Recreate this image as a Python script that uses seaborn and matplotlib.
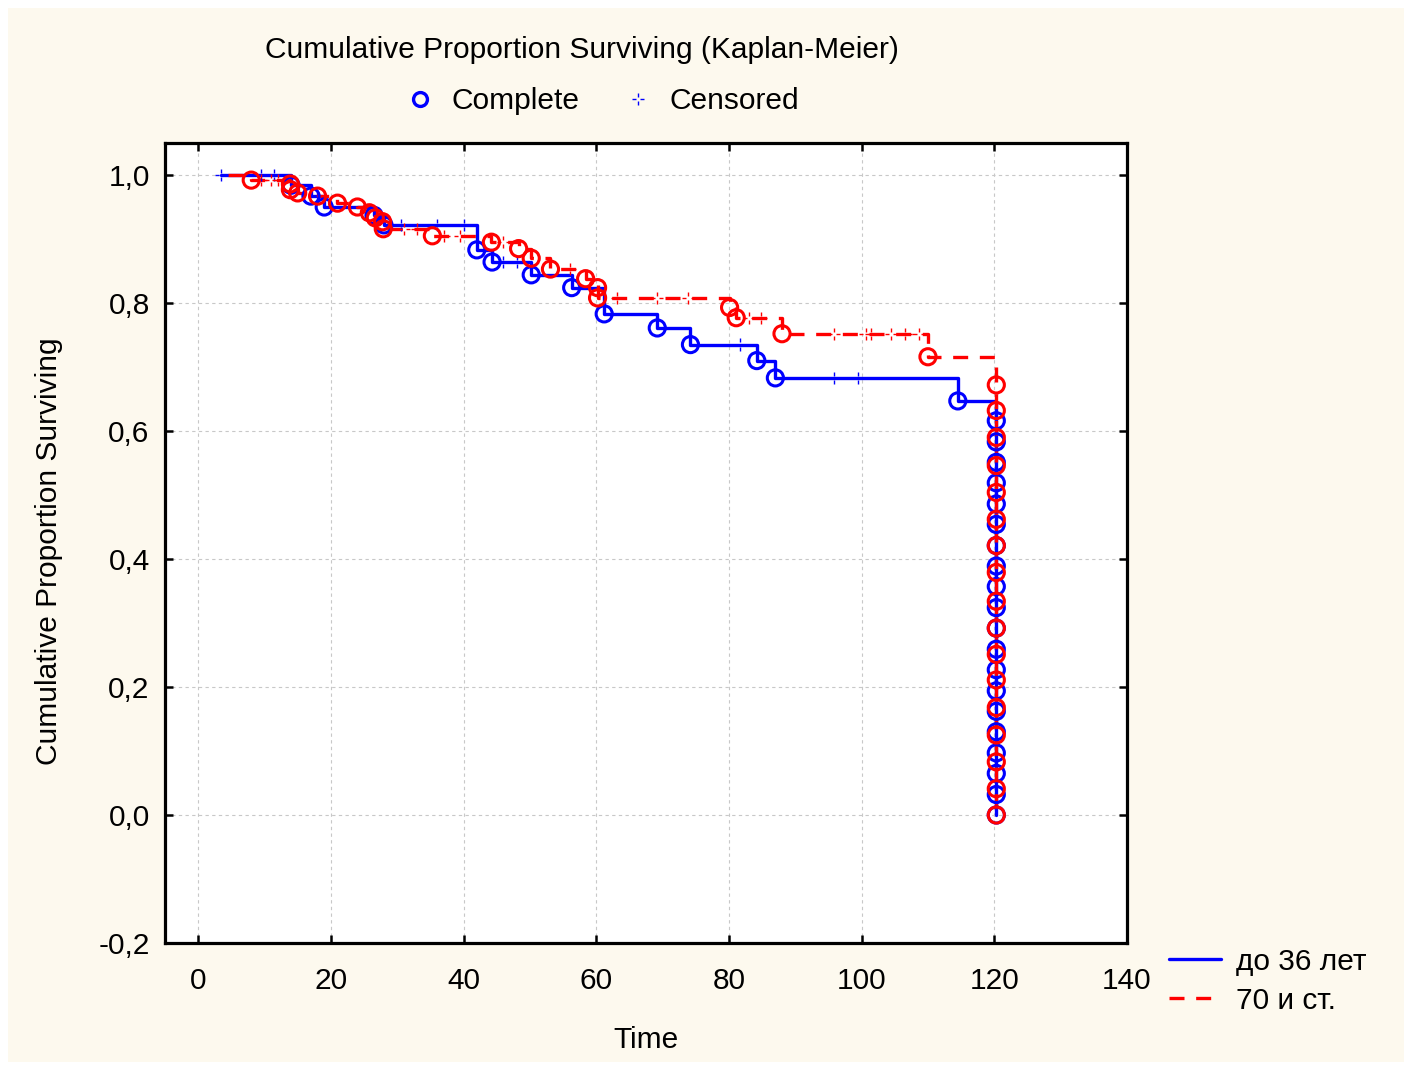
import matplotlib
matplotlib.use("Agg")
import numpy as np
import pandas as pd
import matplotlib.pyplot as plt
import seaborn as sns
from matplotlib.path import Path
from matplotlib.lines import Line2D
from matplotlib.patches import Rectangle

# Données (temps, survie cumulée)
groupes = ["до 36 лет", "70 и ст."]

# до 36 лет : événements (Complete)
bleu_debut = 3.5
bleu_t = [14, 17, 19, 26.5, 28, 42, 44.3, 50.2, 56.3, 61.2, 69.2, 74.2, 84.2, 87, 114.5,
          120.3, 120.3, 120.3, 120.3, 120.3, 120.3, 120.3, 120.3, 120.3, 120.3,
          120.3, 120.3, 120.3, 120.3, 120.3, 120.3, 120.3, 120.3, 120.3, 120.3]
bleu_s = [0.984, 0.967, 0.950, 0.937, 0.922, 0.883, 0.864, 0.844, 0.824, 0.783, 0.761, 0.735,
          0.710, 0.683, 0.647,
          0.616, 0.583, 0.551, 0.519, 0.486, 0.454, 0.421, 0.389, 0.357, 0.324,
          0.292, 0.259, 0.227, 0.194, 0.162, 0.130, 0.097, 0.065, 0.032, 0.0]
# до 36 лет : censurés
bleu_cens_t = [3.5, 9.5, 11.5, 30.5, 36, 40, 46, 48, 81.7, 95.8, 99.5]
bleu_cens_s = [1.0, 1.0, 1.0, 0.922, 0.922, 0.922, 0.864, 0.864, 0.735, 0.683, 0.683]

# 70 и ст. : événements (Complete)
rouge_debut = 4.5
rouge_t = [8, 13.9, 13.9, 15, 18, 21, 24, 25.8, 26.7, 27.8, 27.9, 35.3, 44.2, 48.3, 50.2,
           53.1, 58.4, 60.2, 60.2, 80.1, 81.1, 88, 110,
           120.3, 120.3, 120.3, 120.3, 120.3, 120.3, 120.3, 120.3, 120.3,
           120.3, 120.3, 120.3, 120.3, 120.3, 120.3, 120.3, 120.3]
rouge_s = [0.992, 0.986, 0.977, 0.972, 0.967, 0.956, 0.950, 0.941, 0.933, 0.927, 0.916, 0.905,
           0.895, 0.885, 0.870, 0.853, 0.838, 0.824, 0.808, 0.793, 0.777, 0.752, 0.716,
           0.672, 0.632, 0.590, 0.546, 0.504, 0.462, 0.421, 0.379, 0.334,
           0.292, 0.251, 0.211, 0.168, 0.125, 0.083, 0.041, 0.0]
# 70 и ст. : censurés
rouge_cens_t = [9.5, 11, 12, 31, 33, 37, 39.5, 46, 56, 63.2, 69.2, 73.9, 83, 84.8,
                95.8, 100.6, 101.4, 104.4, 106.6, 108.6]
rouge_cens_s = [0.992, 0.992, 0.992, 0.916, 0.916, 0.905, 0.905, 0.895, 0.853, 0.808, 0.808,
                0.808, 0.777, 0.777, 0.752, 0.752, 0.752, 0.752, 0.752, 0.752]

yticks = [-0.2, 0.0, 0.2, 0.4, 0.6, 0.8, 1.0]
ytick_labels = ["-0,2", "0,0", "0,2", "0,4", "0,6", "0,8", "1,0"]
xticks = [0, 20, 40, 60, 80, 100, 120, 140]

sns.set_style("white")
plt.rcParams["font.family"] = ["Liberation Sans", "DejaVu Sans"]
for k in ["text.color", "axes.labelcolor", "xtick.color", "ytick.color"]:
    plt.rcParams[k] = "black"
FS = 21.5
TIRETS = (0, (4.5, 3.5))

# Marqueur "censuré" : petite croix interrompue
marqueur_cens = Path([(-1, 0), (-0.35, 0), (0.35, 0), (1, 0), (0, -1), (0, -0.35), (0, 0.35), (0, 1)],
                     [Path.MOVETO, Path.LINETO] * 4)

W, H = 1412, 1070
fig = plt.figure(figsize=(W / 100, H / 100), dpi=100, facecolor="white")
fig.patches.append(Rectangle((8 / W, 8 / H), 1 - 16 / W, 1 - 16 / H, transform=fig.transFigure,
                             facecolor="#fdf9ee", edgecolor="none", zorder=-5))
ax = fig.add_axes([165 / W, 1 - 943 / H, (1127 - 165) / W, (943 - 143) / H])
ax.set_facecolor("white")

series = [
    ("blue", "-", bleu_debut, bleu_t, bleu_s, bleu_cens_t, bleu_cens_s),
    ("red", TIRETS, rouge_debut, rouge_t, rouge_s, rouge_cens_t, rouge_cens_s),
]
for couleur, style, debut, t, s, ct, cs in series:
    courbe = pd.DataFrame({"t": [debut] + t, "s": [1.0] + s})
    sns.lineplot(data=courbe, x="t", y="s", ax=ax, estimator=None, sort=False,
                 drawstyle="steps-post", color=couleur, linestyle=style, linewidth=2.4)
    sns.scatterplot(x=t, y=s, ax=ax, marker="o", s=135, facecolors="none",
                    edgecolor=couleur, linewidth=2.2, zorder=4)
    sns.scatterplot(x=ct, y=cs, ax=ax, marker=marqueur_cens, s=80, facecolors="none",
                    edgecolor=couleur, linewidth=1.0, zorder=4)

ax.set_xlim(-5, 140)
ax.set_ylim(-0.2, 1.05)
ax.set_xticks(xticks)
ax.set_yticks(yticks)
ax.set_yticklabels(ytick_labels)
ax.grid(True, linestyle=(0, (3, 3)), color="#c8c8c8", linewidth=0.8)
ax.tick_params(direction="in", length=6, width=1.8, labelsize=FS, top=True, right=True,
               bottom=True, left=True)
ax.tick_params(axis="x", pad=17)
ax.tick_params(axis="y", pad=11)
for sp in ax.spines.values():
    sp.set_linewidth(2.3)
    sp.set_color("black")

ax.set_xlabel("Time", fontsize=FS)
ax.xaxis.set_label_coords(0.5, -0.104)
ax.set_ylabel("Cumulative Proportion Surviving", fontsize=FS)
ax.yaxis.set_label_coords(-0.106, 0.49)

fig.text(582 / W, 1 - 50 / H, "Cumulative Proportion Surviving (Kaplan-Meier)",
         ha="center", va="center", fontsize=FS)

h_complete = Line2D([], [], ls="", marker="o", mfc="none", mec="blue", mew=2.4, ms=10)
h_cens = Line2D([], [], ls="", marker=marqueur_cens, color="blue", mew=1.0, ms=9)
fig.legend([h_complete, h_cens], ["Complete", "Censored"], loc="center",
           bbox_to_anchor=(602 / W, 1 - 101 / H), ncol=2, frameon=False, fontsize=FS,
           columnspacing=1.45, handletextpad=0.55, handlelength=1.0)

h_bleu = Line2D([], [], color="blue", lw=2.4)
h_rouge = Line2D([], [], color="red", lw=2.4, ls=TIRETS)
fig.legend([h_bleu, h_rouge], groupes, loc="upper left",
           bbox_to_anchor=(1142 / W, 1 - 921 / H), frameon=False, fontsize=FS,
           handlelength=1.75, handletextpad=0.5, labelspacing=0.37)

fig.savefig("out.png", dpi=100, facecolor=fig.get_facecolor())
